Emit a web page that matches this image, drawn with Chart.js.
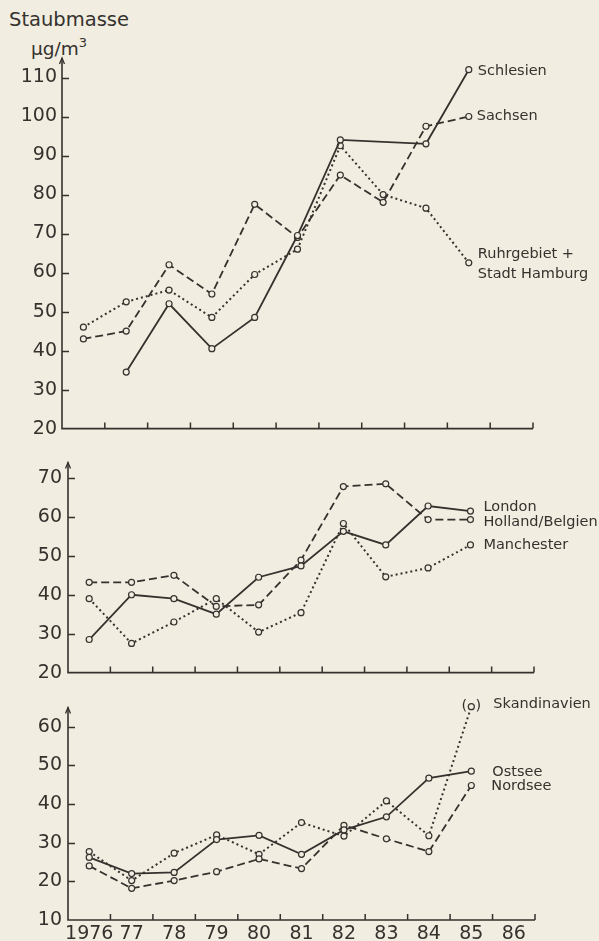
<!DOCTYPE html>
<html lang="de">
<head>
<meta charset="UTF-8">
<title>Staubmasse</title>
<script src="https://cdn.jsdelivr.net/npm/chart.js"></script>
<style>
  html, body { margin: 0; padding: 0; background: #f1ede1; }
  #wrap { position: relative; width: 599px; height: 941px; overflow: hidden; }
  canvas { position: absolute; left: 0; }
  .t { position: absolute; font-family: 'DejaVu Sans', sans-serif; color: #35322e; white-space: nowrap; }
  #t1 { left: 9px; top: 10px; font-size: 19.5px; line-height: 20px; }
  #t2 { left: 31px; top: 34px; font-size: 18.5px; line-height: 20px; }
  #t2 sup { font-size: 13px; position: relative; top: -1px; }
</style>
</head>
<body>
<div id="wrap">
  <div class="t" id="t1">Staubmasse</div>
  <div class="t" id="t2">µg/m<sup>3</sup></div>
  <canvas id="c1" width="599" height="445" style="top:0px"></canvas>
  <canvas id="c2" width="599" height="245" style="top:445px"></canvas>
  <canvas id="c3" width="599" height="251" style="top:690px"></canvas>
</div>

<script>
  const INK = '#35322e';
  const PAPER = '#f1ede1';

  // x-Achse (Jahre)
  const years = ['1976', '77', '78', '79', '80', '81', '82', '83', '84', '85', '86'];

  // oberes Diagramm
  const yTicks1 = [20, 30, 40, 50, 60, 70, 80, 90, 100, 110];
  const schlesien   = [null, 34.5, 52, 40.5, 48.5, 69.5, 94, null, 93, 112, null];
  const sachsen     = [43, 45, 62, 54.5, 77.5, 69, 85, 78, 97.5, 100, null];
  const ruhrHamburg = [46, 52.5, 55.5, 48.5, 59.5, 66, 92.5, 80, 76.5, 62.5, null];

  // mittleres Diagramm
  const yTicks2 = [20, 30, 40, 50, 60, 70];
  const london         = [28.5, 40, 39, 35, 44.5, 47.4, 56.3, 52.8, 62.8, 61.5, null];
  const hollandBelgien = [43.2, 43.2, 45, 37, 37.4, 48.9, 67.8, 68.5, 59.3, 59.3, null];
  const manchester     = [39, 27.5, 33, 39, 30.4, 35.4, 58.3, 44.6, 46.9, 52.8, null];

  // unteres Diagramm
  const yTicks3 = [10, 20, 30, 40, 50, 60];
  const ostsee       = [26.2, 22, 22.3, 30.8, 31.9, 27, 33.3, 36.7, 46.7, 48.5, null];
  const nordsee      = [24, 18.2, 20.2, 22.5, 25.8, 23.3, 34.5, 31, 27.7, 44.8, null];
  const skandinavien = [27.7, 20.2, 27.3, 32, 27, 35.2, 31.7, 40.8, 31.8, 65.2, null];

  Chart.defaults.font.family = "'DejaVu Sans', sans-serif";
  Chart.defaults.color = INK;

  const styles = {
    solid:  { dash: [], width: 1.8 },
    dashed: { dash: [8, 4], width: 1.8 },
    dotted: { dash: [2, 3], width: 2 }
  };

  function series(label, data, kind) {
    return {
      label: label,
      data: data,
      borderColor: INK,
      borderWidth: styles[kind].width,
      borderDash: styles[kind].dash,
      pointRadius: 3,
      pointBorderWidth: 1.2,
      pointBorderColor: INK,
      pointBackgroundColor: PAPER,
      fill: false,
      tension: 0,
      spanGaps: true,
      clip: false
    };
  }

  // Achsen mit Pfeil und nach innen zeigenden Strichen
  const axesPlugin = {
    id: 'axes',
    beforeDatasetsDraw(chart) {
      const { ctx, chartArea: a, scales: { x, y } } = chart;
      ctx.save();
      ctx.strokeStyle = INK;
      ctx.lineWidth = 1.6;
      ctx.beginPath();
      ctx.moveTo(a.left, a.top);
      ctx.lineTo(a.left, a.bottom);
      ctx.lineTo(a.right, a.bottom);
      ctx.stroke();
      // Pfeilspitze
      ctx.lineWidth = 1.3;
      ctx.beginPath();
      ctx.moveTo(a.left - 2.5, a.top + 6);
      ctx.lineTo(a.left, a.top);
      ctx.lineTo(a.left + 2.5, a.top + 6);
      ctx.stroke();
      ctx.lineWidth = 1.5;
      ctx.beginPath();
      y.ticks.forEach(t => {
        if (t.value === y.min) return;
        const py = Math.round(y.getPixelForValue(t.value)) + 0.5;
        ctx.moveTo(a.left, py);
        ctx.lineTo(a.left + 7, py);
      });
      const half = (x.getPixelForValue(1) - x.getPixelForValue(0)) / 2;
      for (let i = 0; i < x.ticks.length; i++) {
        const px = x.getPixelForValue(i) + half;
        ctx.moveTo(px, a.bottom);
        ctx.lineTo(px, a.bottom - 6);
      }
      ctx.stroke();
      ctx.restore();
    },
    afterDatasetsDraw(chart, args, opts) {
      const { ctx } = chart;
      ctx.save();
      ctx.fillStyle = INK;
      ctx.font = "14.5px 'DejaVu Sans', sans-serif";
      ctx.textBaseline = 'middle';
      (opts.labels || []).forEach(l => {
        const meta = chart.getDatasetMeta(l.ds);
        const p = meta.data[9];
        ctx.textAlign = 'left';
        l.lines.forEach((txt, i) => {
          ctx.fillText(txt, p.x + l.dx, p.y + l.dy + i * 20);
        });
        if (l.paren) {
          ctx.textAlign = 'center';
          ctx.fillText('(', p.x - 7, p.y);
          ctx.fillText(')', p.x + 7, p.y);
        }
      });
      ctx.restore();
    }
  };

  function makeChart(id, datasets, yTicks, yMin, yMax, geo, labels, showX) {
    return new Chart(document.getElementById(id), {
      type: 'line',
      data: { labels: years, datasets: datasets },
      options: {
        responsive: false,
        animation: false,
        layout: { padding: { top: geo.top, right: geo.right, left: 0, bottom: 0 } },
        plugins: {
          legend: { display: false },
          tooltip: { enabled: false },
          axes: { labels: labels }
        },
        scales: {
          x: {
            type: 'category',
            offset: true,
            grid: { display: false, drawTicks: false },
            border: { display: false },
            ticks: {
              display: showX,
              autoSkip: false,
              maxRotation: 0,
              padding: 3,
              color: INK,
              font: { size: 19 }
            },
            afterFit: s => { s.height = geo.xh; }
          },
          y: {
            min: yMin,
            max: yMax,
            grid: { display: false, drawTicks: false },
            border: { display: false },
            afterBuildTicks: s => { s.ticks = yTicks.map(v => ({ value: v })); },
            ticks: { padding: geo.pad, color: INK, font: { size: 19 } },
            afterFit: s => { s.width = geo.yw; }
          }
        }
      },
      plugins: [axesPlugin]
    });
  }

  makeChart('c1', [
    series('Schlesien', schlesien, 'solid'),
    series('Sachsen', sachsen, 'dashed'),
    series('Ruhrgebiet + Stadt Hamburg', ruhrHamburg, 'dotted')
  ], yTicks1, 20, 115, { top: 58, right: 66, xh: 8, yw: 62, pad: 5 }, [
    { ds: 0, lines: ['Schlesien'], dx: 9, dy: 2 },
    { ds: 1, lines: ['Sachsen'], dx: 8, dy: 0 },
    { ds: 2, lines: ['Ruhrgebiet +', 'Stadt Hamburg'], dx: 9, dy: -9 }
  ], false);

  makeChart('c2', [
    series('London', london, 'solid'),
    series('Holland/Belgien', hollandBelgien, 'dashed'),
    series('Manchester', manchester, 'dotted')
  ], yTicks2, 20, 74, { top: 17, right: 65, xh: 11, yw: 68, pad: 6 }, [
    { ds: 0, lines: ['London'], dx: 13, dy: -4 },
    { ds: 1, lines: ['Holland/Belgien'], dx: 13, dy: 3 },
    { ds: 2, lines: ['Manchester'], dx: 13, dy: 0 }
  ], false);

  makeChart('c3', [
    series('Ostsee', ostsee, 'solid'),
    series('Nordsee', nordsee, 'dashed'),
    series('Skandinavien', skandinavien, 'dotted')
  ], yTicks3, 10, 65, { top: 10, right: 64, xh: 21, yw: 68, pad: 6 }, [
    { ds: 0, lines: ['Ostsee'], dx: 21, dy: 1 },
    { ds: 1, lines: ['Nordsee'], dx: 20, dy: 1 },
    { ds: 2, lines: ['Skandinavien'], dx: 22, dy: -2, paren: true }
  ], true);
</script>
</body>
</html>
